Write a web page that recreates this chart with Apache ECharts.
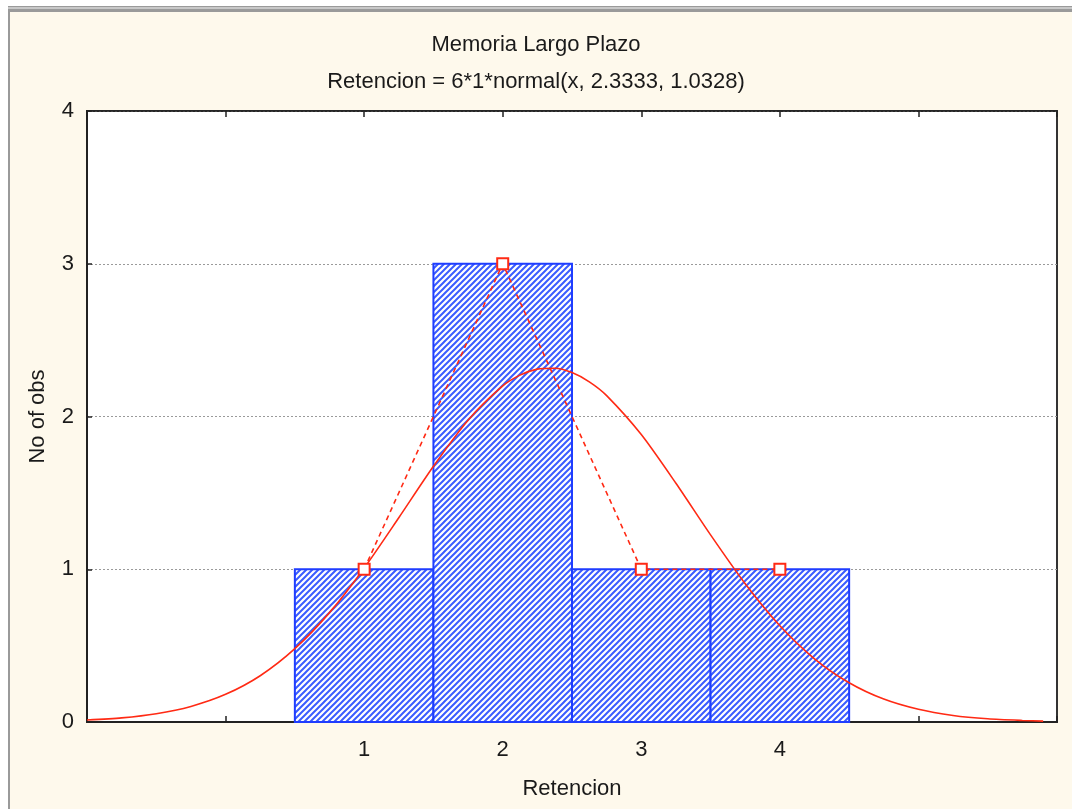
<!DOCTYPE html>
<html>
<head>
<meta charset="utf-8">
<script src="https://cdn.jsdelivr.net/npm/echarts@6/dist/echarts.min.js"></script>
<style>
html,body{margin:0;padding:0;background:#ffffff;}
#chart{width:1072px;height:809px;}
</style>
</head>
<body>
<div id="chart"></div>
<script>
// ---- data ----
var titleText = 'Memoria Largo Plazo';
var subtitleText = 'Retencion = 6*1*normal(x, 2.3333, 1.0328)';
var xAxisName = 'Retencion';
var yAxisName = 'No of obs';
var barCenters = [1, 2, 3, 4];
var barCounts = [1, 3, 1, 1];
var xTickLabels = ['1', '2', '3', '4'];
var curveX = [-1, -0.75, -0.5, -0.25, 0, 0.25, 0.5, 0.75, 1, 1.25, 1.5, 1.75, 2, 2.125, 2.25, 2.375, 2.5, 2.625, 2.75, 3, 3.25, 3.5, 3.75, 4, 4.25, 4.5, 4.75, 5, 5.25, 5.5, 5.75, 5.9];
var curveY = [0.013, 0.027, 0.054, 0.102, 0.181, 0.303, 0.480, 0.716, 1.007, 1.337, 1.674, 1.976, 2.200, 2.271, 2.310, 2.316, 2.288, 2.227, 2.137, 1.882, 1.563, 1.225, 0.905, 0.630, 0.414, 0.257, 0.150, 0.083, 0.043, 0.021, 0.010, 0.006];

var FONT = '"Liberation Sans", Arial, sans-serif';

// hatch pattern
var tile = document.createElement('canvas');
tile.width = 6; tile.height = 6;
var c = tile.getContext('2d');
c.fillStyle = '#ffffff'; c.fillRect(0, 0, 6, 6);
c.strokeStyle = '#3a5cff'; c.lineWidth = 2;
c.beginPath();
c.moveTo(-1, 7); c.lineTo(7, -1);
c.moveTo(-4, 4); c.lineTo(4, -4);
c.moveTo(2, 10); c.lineTo(10, 2);
c.stroke();

var chart = echarts.init(document.getElementById('chart'), null, {renderer: 'canvas'});

var barData = barCenters.map(function (x, i) { return [x, barCounts[i]]; });
var curveData = curveX.map(function (x, i) { return [x, curveY[i]]; });

var option = {
  backgroundColor: '#ffffff',
  animation: false,
  graphic: [
    {type: 'rect', shape: {x: 8, y: 6, width: 1064, height: 803}, style: {fill: '#9a9a9a'}, z: -10},
    {type: 'rect', shape: {x: 10, y: 12, width: 1062, height: 797}, style: {fill: '#fef9ec'}, z: -9},
    {type: 'rect', shape: {x: 8, y: 7, width: 1064, height: 2}, style: {fill: '#c8c8c8'}, z: -8},
    {type: 'text', left: 'center', top: 34, style: {text: titleText, font: '22px ' + FONT, fill: '#1a1a1a'}},
    {type: 'text', left: 'center', top: 71, style: {text: subtitleText, font: '22px ' + FONT, fill: '#1a1a1a'}}
  ],
  grid: {
    left: 87, right: 15, top: 111, bottom: 87,
    show: true, backgroundColor: '#ffffff', borderColor: '#333333', borderWidth: 2
  },
  xAxis: [{
    type: 'value', min: -1, max: 6, interval: 1,
    name: xAxisName, nameLocation: 'middle', nameGap: 56,
    nameTextStyle: {fontFamily: FONT, fontSize: 22, color: '#1a1a1a'},
    axisLine: {show: true, onZero: false, lineStyle: {color: '#222', width: 2}},
    axisTick: {show: true, inside: true, length: 6, lineStyle: {color: '#222', width: 1.5}},
    axisLabel: {
      fontFamily: FONT, fontSize: 22, color: '#1a1a1a', margin: 17,
      formatter: function (v) { var i = barCenters.indexOf(v); return i >= 0 ? xTickLabels[i] : ''; }
    },
    splitLine: {show: false}
  }, {
    type: 'value', min: -1, max: 6, interval: 1, position: 'top',
    axisLine: {show: true, onZero: false, lineStyle: {color: '#222', width: 1.5}},
    axisTick: {show: true, inside: true, length: 6, lineStyle: {color: '#222', width: 1.5}},
    axisLabel: {show: false}, splitLine: {show: false}
  }],
  yAxis: {
    type: 'value', min: 0, max: 4, interval: 1,
    name: yAxisName, nameLocation: 'middle', nameGap: 38,
    nameTextStyle: {fontFamily: FONT, fontSize: 22, color: '#1a1a1a'},
    axisLine: {show: true, onZero: false, lineStyle: {color: '#222', width: 2}},
    axisTick: {show: true, inside: true, length: 5, lineStyle: {color: '#222', width: 1.5}},
    axisLabel: {fontFamily: FONT, fontSize: 22, color: '#1a1a1a', margin: 13},
    splitLine: {show: true, lineStyle: {color: '#9a9a9a', type: [2, 2], width: 1}}
  },
  series: [{
    type: 'custom',
    data: barData,
    encode: {x: 0, y: 1},
    renderItem: function (params, api) {
      var x = api.value(0), y = api.value(1);
      var p0 = api.coord([x - 0.5, y]);
      var p1 = api.coord([x + 0.5, 0]);
      return {
        type: 'rect',
        shape: {x: p0[0], y: p0[1], width: p1[0] - p0[0], height: p1[1] - p0[1]},
        style: {fill: {image: tile, repeat: 'repeat'}, stroke: '#1f3dff', lineWidth: 2}
      };
    },
    z: 2
  }, {
    type: 'line',
    data: curveData,
    smooth: 0.25,
    showSymbol: false,
    symbol: 'none',
    lineStyle: {color: '#ff2a14', width: 1.6},
    z: 3
  }, {
    type: 'line',
    data: barData,
    symbol: 'rect',
    symbolSize: 11,
    lineStyle: {color: '#ff2a14', width: 1.6, type: [5, 4]},
    itemStyle: {color: '#ffffff', borderColor: '#ff2a14', borderWidth: 2},
    z: 4
  }]
};
chart.setOption(option);
</script>
</body>
</html>
